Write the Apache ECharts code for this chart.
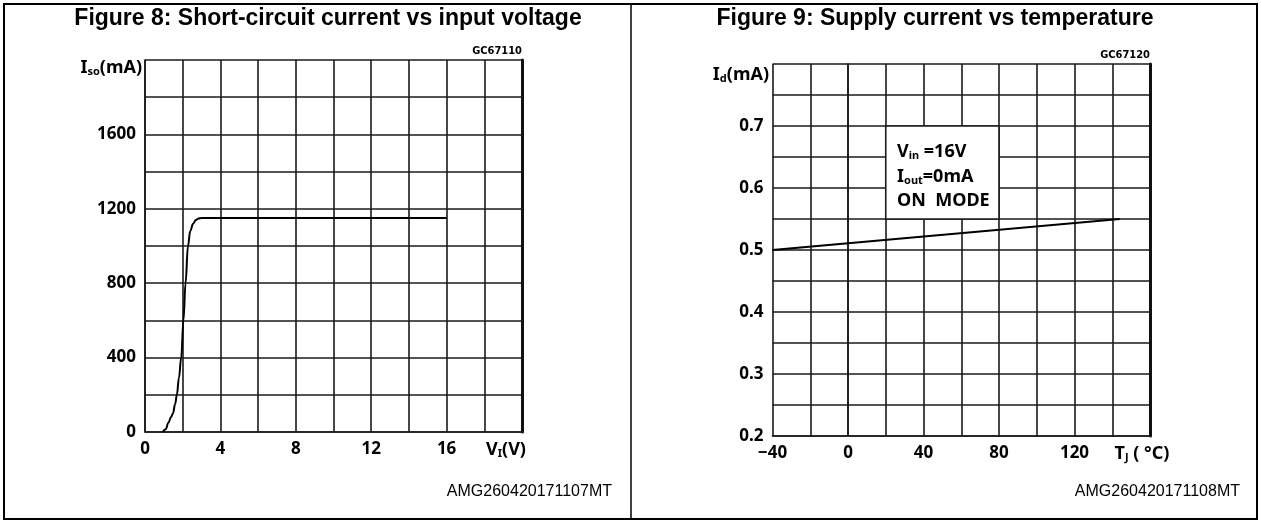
<!DOCTYPE html>
<html>
<head>
<meta charset="utf-8">
<script src="https://cdn.jsdelivr.net/npm/echarts@6/dist/echarts.min.js"></script>
<style>
  html, body { margin: 0; padding: 0; background: #fff; }
  #main { width: 1261px; height: 522px; }
</style>
</head>
<body>
<div id="main"></div>
<script>
// Figure 8: short-circuit current vs input voltage
const vinV = [0.94, 1.1, 1.24, 1.38, 1.48, 1.6, 1.69, 1.8, 1.92, 2.04, 2.15, 2.28, 2.4, 2.55, 2.7, 2.85, 3.0, 16];
const iscMA = [0, 15, 50, 80, 100, 150, 200, 290, 400, 600, 800, 1000, 1080, 1120, 1140, 1148, 1150, 1150];
const vTicks = [0, 4, 8, 12, 16];
const iscTicks = [0, 400, 800, 1200, 1600];

// Figure 9: supply current vs temperature
const tjC = [-40, 144];
const idMA = [0.5, 0.55];
const tjTicks = [-40, 0, 40, 80, 120];
const idTicks = ['0.2', '0.3', '0.4', '0.5', '0.6', '0.7'];
const noteBox = [20, 80, 0.55, 0.7]; // x from, x to, y from, y to

const chart = echarts.init(document.getElementById('main'));

const FONT = '"Noto Sans", sans-serif';
const gridLine = { show: true, lineStyle: { color: '#1a1a1a', width: 1.6 } };
const axisLine = { show: true, lineStyle: { color: '#1a1a1a', width: 1.6 } };
const labelStyle = { color: '#000', fontFamily: FONT, fontWeight: 'bold', fontSize: 17, margin: 9 };

const rich = {
  b: { fontFamily: FONT, fontWeight: 'bold', fontSize: 18, fill: '#000' },
  s: { fontFamily: FONT, fontWeight: 'bold', fontSize: 11, fill: '#000', padding: [7, 0, 0, 0] }
};

function txt(x, y, text, font, align) {
  return {
    type: 'text', x: x, y: y, z: 100, silent: true,
    style: { text: text, font: font, fill: '#000', align: align || 'center', verticalAlign: 'middle' }
  };
}
function richTxt(x, y, text, align) {
  return {
    type: 'text', x: x, y: y, z: 100, silent: true,
    style: { text: text, rich: rich, align: align || 'center', verticalAlign: 'middle' }
  };
}

const option = {
  animation: false,
  backgroundColor: '#fff',
  grid: [
    { left: 145, top: 60, width: 377, height: 372 },
    { left: 772.5, top: 64, width: 377.5, height: 372 }
  ],
  xAxis: [
    {
      gridIndex: 0, type: 'value', min: 0, max: 20, interval: 2,
      axisLine: axisLine, axisTick: { show: false }, splitLine: gridLine,
      axisLabel: Object.assign({}, labelStyle, {
        formatter: v => vTicks.includes(v) ? String(v) : ''
      })
    },
    {
      gridIndex: 1, type: 'value', min: -40, max: 160, interval: 20,
      axisLine: axisLine, axisTick: { show: false }, splitLine: gridLine,
      axisLabel: Object.assign({}, labelStyle, {
        formatter: v => tjTicks.includes(v) ? String(v).replace('-', '\u2212') : ''
      })
    }
  ],
  yAxis: [
    {
      gridIndex: 0, type: 'value', min: 0, max: 2000, interval: 200,
      axisLine: axisLine, axisTick: { show: false }, splitLine: gridLine,
      axisLabel: Object.assign({}, labelStyle, {
        formatter: v => iscTicks.includes(v) ? String(v) : ''
      })
    },
    {
      gridIndex: 1, type: 'value', min: 0.2, max: 0.8, interval: 0.05,
      axisLine: axisLine, axisTick: { show: false }, splitLine: gridLine,
      axisLabel: Object.assign({}, labelStyle, {
        formatter: v => {
          const s = v.toFixed(2);
          return s.endsWith('0') && idTicks.includes(v.toFixed(1)) ? v.toFixed(1) : '';
        }
      })
    },
    // heavier right-hand frame edges
    {
      gridIndex: 0, type: 'value', position: 'right', min: 0, max: 2000,
      axisLine: { show: true, lineStyle: { color: '#111', width: 3 } },
      axisTick: { show: false }, axisLabel: { show: false }, splitLine: { show: false }
    },
    {
      gridIndex: 1, type: 'value', position: 'right', min: 0.2, max: 0.8,
      axisLine: { show: true, lineStyle: { color: '#111', width: 3 } },
      axisTick: { show: false }, axisLabel: { show: false }, splitLine: { show: false }
    }
  ],
  series: [
    {
      type: 'line', xAxisIndex: 0, yAxisIndex: 0,
      data: vinV.map((v, i) => [v, iscMA[i]]),
      smooth: 0.4, smoothMonotone: 'x', showSymbol: false,
      lineStyle: { color: '#000', width: 2 }, z: 5
    },
    {
      type: 'line', xAxisIndex: 1, yAxisIndex: 1,
      data: tjC.map((t, i) => [t, idMA[i]]),
      showSymbol: false,
      lineStyle: { color: '#000', width: 2 }, z: 5,
      markArea: {
        silent: true,
        itemStyle: { color: '#fff', opacity: 1, borderColor: '#1a1a1a', borderWidth: 1.6 },
        data: [[{ coord: [noteBox[0], noteBox[3]] }, { coord: [noteBox[1], noteBox[2]] }]]
      }
    }
  ],
  graphic: [
    // outer frame and divider
    { type: 'rect', z: 100, silent: true, shape: { x: 4, y: 4, width: 1253, height: 515 },
      style: { fill: 'none', stroke: '#000', lineWidth: 2 } },
    { type: 'line', z: 100, silent: true, shape: { x1: 631, y1: 4, x2: 631, y2: 519 },
      style: { stroke: '#000', lineWidth: 1.5 } },
    // titles
    txt(328, 19, 'Figure 8: Short-circuit current vs input voltage', 'bold 23px "Liberation Sans", Arial, sans-serif'),
    txt(935, 19, 'Figure 9: Supply current vs temperature', 'bold 23px "Liberation Sans", Arial, sans-serif'),
    // drawing codes
    txt(522, 51, 'GC67110', 'bold 11px "DejaVu Sans Condensed", sans-serif', 'right'),
    txt(1150, 55, 'GC67120', 'bold 11px "DejaVu Sans Condensed", sans-serif', 'right'),
    txt(612, 492, 'AMG260420171107MT', '16px "Liberation Sans", Arial, sans-serif', 'right'),
    txt(1240, 492, 'AMG260420171108MT', '16px "Liberation Sans", Arial, sans-serif', 'right'),
    // axis names
    richTxt(142, 68, '{b|I}{s|so}{b|(mA)}', 'right'),
    richTxt(506, 450, '{b|V}{s|I}{b|(V)}'),
    richTxt(769, 75, '{b|I}{s|d}{b|(mA)}', 'right'),
    richTxt(1142, 454, '{b|T}{s|J}{b| ( °C)}'),
    // operating conditions note
    richTxt(897, 152, '{b|V}{s|in}{b| =16V}', 'left'),
    richTxt(897, 177, '{b|I}{s|out}{b|=0mA}', 'left'),
    richTxt(897, 201, '{b|ON  MODE}', 'left')
  ]
};

chart.setOption(option);
</script>
</body>
</html>
